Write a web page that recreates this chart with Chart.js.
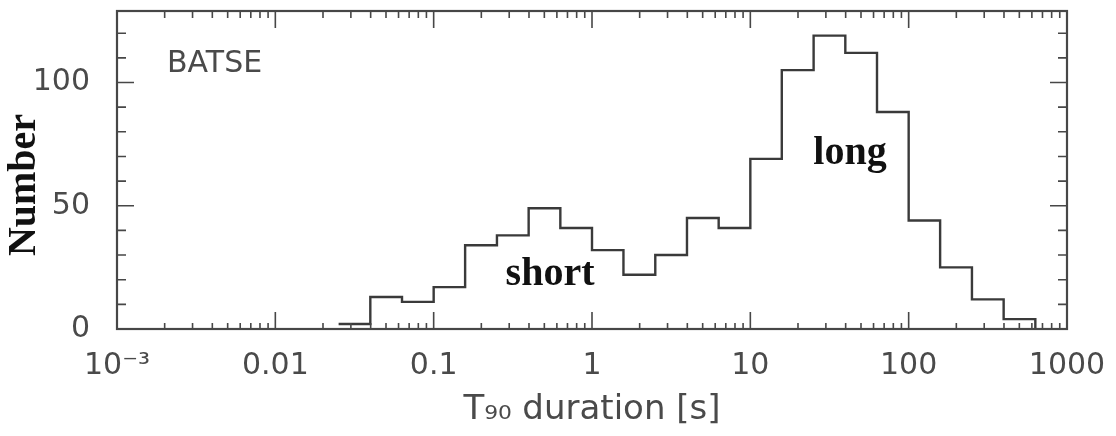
<!DOCTYPE html>
<html>
<head>
<meta charset="utf-8">
<script src="https://cdn.jsdelivr.net/npm/chart.js@4.4.1/dist/chart.umd.min.js"></script>
<style>
  html, body { margin: 0; padding: 0; background: #fff; }
  #wrap { width: 1116px; height: 436px; }
</style>
</head>
<body>
<div id="wrap"><canvas id="t90Chart" width="1116" height="436"></canvas></div>
<script>
// BATSE T90 histogram, bins of 0.2 dex (edges in seconds)
const binEdges = [0.0251, 0.0398, 0.0631, 0.1, 0.158, 0.251, 0.398, 0.631, 1, 1.58, 2.51, 3.98, 6.31, 10, 15.8, 25.1, 39.8, 63.1, 100, 158, 251, 398, 631];
const counts = [2, 13, 11, 17, 34, 38, 49, 41, 32, 22, 30, 45, 41, 69, 105, 119, 112, 88, 44, 25, 12, 4];

const xTickValues = [0.001, 0.01, 0.1, 1, 10, 100, 1000];
const xTickLabels = ['10\u207B\u00B3', '0.01', '0.1', '1', '10', '100', '1000'];
const yTickValues = [0, 50, 100];
const yTickLabels = ['0', '50', '100'];

const frameColor = '#474747';

// text placed in data coordinates
const notes = [
  { text: 'BATSE', x: 0.00207, y: 107.5, font: '30px "DejaVu Sans"', color: '#4a4a4a', align: 'left', baseline: 'middle' },
  { text: 'short', x: 0.543, y: 17.8, font: 'bold 40px "Liberation Serif"', color: '#111', align: 'center', baseline: 'alphabetic' },
  { text: 'long', x: 42.6, y: 66.9, font: 'bold 40px "Liberation Serif"', color: '#111', align: 'center', baseline: 'alphabetic' }
];

// inward ticks on all four sides + frame
const frameTicks = {
  id: 'frameTicks',
  afterDatasetsDraw(chart) {
    const { ctx, chartArea: a, scales: { x, y } } = chart;
    ctx.save();
    ctx.strokeStyle = frameColor;
    ctx.lineWidth = 1.6;
    ctx.beginPath();
    for (let d = -3; d <= 3; d++) {
      for (let k = 1; k <= 9; k++) {
        if (d === 3 && k > 1) break;
        const px = x.getPixelForValue(k * Math.pow(10, d));
        const len = k === 1 ? 17 : 6;
        ctx.moveTo(px, a.bottom);
        ctx.lineTo(px, a.bottom - len);
        ctx.moveTo(px, a.top);
        ctx.lineTo(px, a.top + (k === 1 ? 17 : 7));
      }
    }
    for (let v = 0; v <= 120; v += 10) {
      const py = y.getPixelForValue(v);
      const len = v % 50 === 0 ? 17 : 9;
      ctx.moveTo(a.left, py);
      ctx.lineTo(a.left + len, py);
      ctx.moveTo(a.right, py);
      ctx.lineTo(a.right - len, py);
    }
    ctx.stroke();

    ctx.lineWidth = 2.2;
    ctx.strokeRect(a.left, a.top, a.right - a.left, a.bottom - a.top);

    notes.forEach(n => {
      ctx.font = n.font;
      ctx.fillStyle = n.color;
      ctx.textAlign = n.align;
      ctx.textBaseline = n.baseline;
      ctx.fillText(n.text, x.getPixelForValue(n.x), y.getPixelForValue(n.y));
    });
    ctx.restore();
  }
};

const points = binEdges.map((e, i) => ({ x: e, y: i < counts.length ? counts[i] : 0 }));

new Chart(document.getElementById('t90Chart'), {
  type: 'line',
  data: {
    datasets: [{
      data: points,
      stepped: true,
      borderColor: '#3a3a3a',
      borderWidth: 2.4,
      pointRadius: 0,
      fill: false
    }]
  },
  options: {
    responsive: false,
    animation: false,
    devicePixelRatio: 1,
    layout: { padding: { top: 11, right: 49, left: 0, bottom: 0 } },
    plugins: { legend: { display: false }, tooltip: { enabled: false } },
    scales: {
      x: {
        type: 'logarithmic',
        min: 0.001,
        max: 1000,
        grid: { display: false, drawTicks: false },
        border: { display: false },
        afterBuildTicks: scale => { scale.ticks = xTickValues.map(v => ({ value: v })); },
        afterFit: scale => { scale.height = 107; scale.paddingLeft = 0; scale.paddingRight = 0; },
        ticks: {
          autoSkip: false,
          maxRotation: 0,
          padding: 19,
          color: '#4a4a4a',
          font: { family: 'DejaVu Sans', size: 30 },
          callback: v => xTickLabels[xTickValues.indexOf(v)] ?? ''
        },
        title: {
          display: true,
          text: 'T\u2089\u2080 duration [s]',
          color: '#4a4a4a',
          font: { family: 'DejaVu Sans', size: 34 },
          padding: { top: 0, bottom: 5 }
        }
      },
      y: {
        min: 0,
        max: 129,
        grid: { display: false, drawTicks: false },
        border: { display: false },
        afterBuildTicks: scale => { scale.ticks = yTickValues.map(v => ({ value: v })); },
        afterFit: scale => { scale.width = 117; scale.paddingTop = 0; scale.paddingBottom = 0; },
        ticks: {
          padding: 27,
          color: '#4a4a4a',
          font: { family: 'DejaVu Sans', size: 30 },
          callback: v => yTickLabels[yTickValues.indexOf(v)] ?? ''
        },
        title: {
          display: true,
          text: 'Number   ',
          color: '#111',
          font: { family: 'Liberation Serif', size: 40, weight: 'bold' },
          padding: { top: 1, bottom: 0 }
        }
      }
    }
  },
  plugins: [frameTicks]
});
</script>
</body>
</html>
